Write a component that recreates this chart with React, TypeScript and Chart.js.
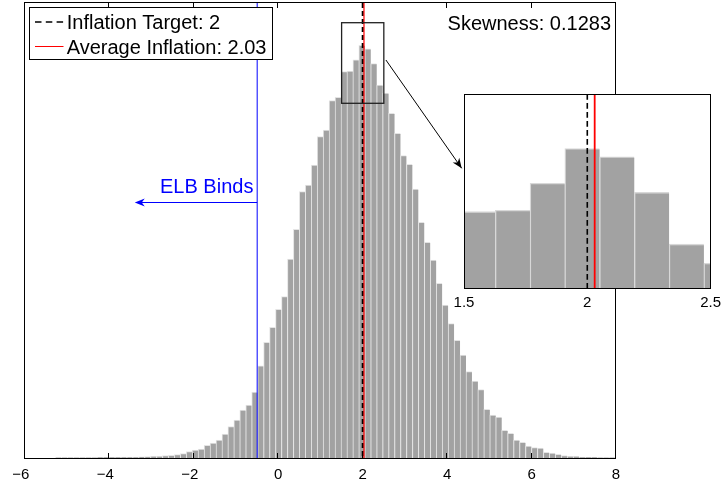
import React, { useEffect, useRef } from 'react';
import { Chart, registerables } from 'chart.js';

Chart.register(...registerables);

// ---- data ----
const binStart = -5.282; // left edge of first histogram bin
const binWidth = 0.141;
const counts = [
  0.3, 0.3, 0.3, 0.4, 0.4, 0.5, 0.5, 0.6, 0.6, 0.7,
  0.7, 0.8, 0.9, 1.0, 1.1, 1.3, 1.6, 2.0, 2.3, 2.7,
  3.3, 4.3, 6.3, 8.0, 9.0, 12.6, 15.0, 18.0, 24.0, 31.5,
  38.0, 48.0, 53.0, 65.8, 92.2, 115.7, 130.7, 148.7, 161.3, 199.0,
  228.7, 266.5, 273.0, 293.0, 321.3, 328.0, 357.3, 360.7, 386.4, 387.0,
  398.2, 412.6, 409.2, 394.4, 372.9, 365.0, 344.7, 324.7, 302.3, 293.7,
  269.0, 235.7, 215.7, 198.0, 174.7, 153.0, 134.3, 117.7, 103.0, 86.3,
  77.0, 68.3, 48.7, 43.0, 41.0, 27.7, 24.7, 18.0, 15.7, 12.0,
  10.3, 10.0, 5.7, 5.0, 3.7, 2.3, 1.7, 1.7, 1.0, 0.7,
  0.6, 0.5, 0.4, 0.4, 0.3,
];
const xTicks = [-6, -4, -2, 0, 2, 4, 6, 8];
const insetTicks = [1.5, 2, 2.5];
const inflationTarget = 2;
const averageInflation = 2.03;
const elbRate = -0.5;
const skewness = 0.1283;
const yMax = 455;
const zoomX = [1.5, 2.5];
const zoomY = [354.7, 435.3];
const elbArrow = { from: -0.5, to: -3.4, level: 255.3 };
const elbLabel = { x: -0.59, y: 265.5, text: 'ELB Binds' };
const zoomArrow = { x0: 2.55, y0: 398, x1: 4.345, y1: 289.7 };

const FONT = '"Liberation Sans", Arial, Helvetica, sans-serif';
const BAR_FILL = '#a2a2a2';
const BAR_EDGE = '#e4e4e4';

const histData = counts.map((c, i) => ({ x: binStart + binWidth * (i + 0.5), y: c }));

// negative labels: numeral centred on the tick, minus sign hanging left
const fmtTick = (v: number) => (v < 0 ? '\u2212' + Math.abs(v) + '\u2007' : String(v));

function arrowHead(ctx: CanvasRenderingContext2D, x0: number, y0: number, x1: number, y1: number, len: number, half: number) {
  const ang = Math.atan2(y1 - y0, x1 - x0);
  const c = Math.cos(ang), s = Math.sin(ang);
  const bx = x1 - len * c, by = y1 - len * s;
  const nx = x1 - len * 0.7 * c, ny = y1 - len * 0.7 * s;
  ctx.beginPath();
  ctx.moveTo(x1, y1);
  ctx.lineTo(bx - half * s, by + half * c);
  ctx.lineTo(nx, ny);
  ctx.lineTo(bx + half * s, by - half * c);
  ctx.closePath();
  ctx.fill();
}

const mainDecor = {
  id: 'mainDecor',
  afterDraw(chart: any) {
    const { ctx, chartArea: a, scales } = chart;
    const x = scales.x, y = scales.y;
    const px = (v: number) => x.getPixelForValue(v);
    const py = (v: number) => y.getPixelForValue(v);
    ctx.save();
    // blue ELB line
    ctx.strokeStyle = '#0000ff';
    ctx.lineWidth = 1;
    ctx.beginPath();
    ctx.moveTo(px(elbRate), a.top);
    ctx.lineTo(px(elbRate), a.bottom);
    ctx.stroke();
    // inflation target dashed
    ctx.strokeStyle = '#000';
    ctx.lineWidth = 2;
    ctx.setLineDash([5, 3]);
    ctx.beginPath();
    ctx.moveTo(px(inflationTarget), a.top);
    ctx.lineTo(px(inflationTarget), a.bottom);
    ctx.stroke();
    ctx.setLineDash([]);
    // average inflation red
    ctx.strokeStyle = '#ff0000';
    ctx.lineWidth = 1.2;
    ctx.beginPath();
    ctx.moveTo(px(averageInflation), a.top);
    ctx.lineTo(px(averageInflation), a.bottom);
    ctx.stroke();

    // axes box
    ctx.strokeStyle = '#000';
    ctx.lineWidth = 1;
    ctx.strokeRect(Math.round(a.left) - 0.5, Math.round(a.top) - 0.5, Math.round(a.right - a.left), Math.round(a.bottom - a.top) + 1);
    // inner tick marks
    ctx.beginPath();
    xTicks.forEach((t) => {
      const p = Math.round(px(t)) - 0.5;
      ctx.moveTo(p, a.bottom);
      ctx.lineTo(p, a.bottom - 5);
      ctx.moveTo(p, a.top);
      ctx.lineTo(p, a.top + 5);
    });
    ctx.stroke();

    // zoom rectangle
    ctx.strokeStyle = '#222';
    ctx.lineWidth = 1.3;
    const rx0 = px(zoomX[0]), rx1 = px(zoomX[1]);
    const ry0 = py(zoomY[1]), ry1 = py(zoomY[0]);
    ctx.strokeRect(rx0, ry0, rx1 - rx0, ry1 - ry0);

    // arrow to inset
    ctx.strokeStyle = '#000';
    ctx.fillStyle = '#000';
    ctx.lineWidth = 1;
    const ax0 = px(zoomArrow.x0), ay0 = py(zoomArrow.y0), ax1 = px(zoomArrow.x1), ay1 = py(zoomArrow.y1);
    ctx.beginPath();
    ctx.moveTo(ax0, ay0);
    ctx.lineTo(ax1, ay1);
    ctx.stroke();
    arrowHead(ctx, ax0, ay0, ax1, ay1, 10, 4);

    // ELB arrow + text
    ctx.strokeStyle = '#0000ff';
    ctx.fillStyle = '#0000ff';
    const ex0 = px(elbArrow.from), ex1 = px(elbArrow.to), ey = Math.floor(py(elbArrow.level)) + 0.5;
    ctx.beginPath();
    ctx.moveTo(ex0, ey);
    ctx.lineTo(ex1 + 3, ey);
    ctx.stroke();
    arrowHead(ctx, ex0, ey, ex1, ey, 10, 4);
    ctx.font = '20px ' + FONT;
    ctx.textAlign = 'right';
    ctx.textBaseline = 'alphabetic';
    ctx.fillText(elbLabel.text, px(elbLabel.x), py(elbLabel.y));

    // legend box
    const lx = a.left + 4, ly = a.top + 4;
    ctx.fillStyle = '#fff';
    ctx.fillRect(lx, ly, 243, 52);
    ctx.strokeStyle = '#000';
    ctx.lineWidth = 1;
    ctx.strokeRect(Math.round(lx) + 0.5, Math.round(ly) + 0.5, 243, 52);
    ctx.setLineDash([6.5, 4.3]);
    ctx.lineWidth = 1.3;
    ctx.beginPath();
    ctx.moveTo(lx + 6, ly + 15);
    ctx.lineTo(lx + 34.5, ly + 15);
    ctx.stroke();
    ctx.setLineDash([]);
    ctx.strokeStyle = '#ff0000';
    ctx.lineWidth = 1;
    ctx.beginPath();
    ctx.moveTo(lx + 6, ly + 39.5);
    ctx.lineTo(lx + 34.5, ly + 39.5);
    ctx.stroke();
    ctx.fillStyle = '#000';
    ctx.textAlign = 'left';
    ctx.fillText('Inflation Target: ' + inflationTarget, lx + 37.7, ly + 22.3);
    ctx.fillText('Average Inflation: ' + averageInflation.toFixed(2), lx + 37.7, ly + 47.3);

    // skewness
    ctx.textAlign = 'right';
    ctx.fillText('Skewness: ' + skewness.toFixed(4), a.right - 5, a.top + 27);
    ctx.restore();
  },
};

const insetDecor = {
  id: 'insetDecor',
  beforeDatasetsDraw(chart: any) {
    const { ctx, chartArea: a } = chart;
    ctx.save();
    ctx.fillStyle = '#fff';
    ctx.fillRect(a.left, a.top, a.right - a.left, a.bottom - a.top);
    ctx.restore();
  },
  afterDatasetsDraw(chart: any) {
    const { ctx, chartArea: a, scales } = chart;
    const px = (v: number) => scales.x.getPixelForValue(v);
    ctx.save();
    ctx.strokeStyle = '#000';
    ctx.lineWidth = 1.6;
    ctx.setLineDash([5.7, 3.3]);
    ctx.beginPath();
    ctx.moveTo(px(inflationTarget), a.top);
    ctx.lineTo(px(inflationTarget), a.bottom);
    ctx.stroke();
    ctx.setLineDash([]);
    ctx.strokeStyle = '#ff0000';
    ctx.lineWidth = 1.8;
    ctx.beginPath();
    ctx.moveTo(px(averageInflation), a.top);
    ctx.lineTo(px(averageInflation), a.bottom);
    ctx.stroke();
    ctx.strokeStyle = '#000';
    ctx.lineWidth = 1;
    ctx.strokeRect(Math.round(a.left) + 0.5, Math.round(a.top) + 0.5, Math.round(a.right - a.left) - 1, Math.round(a.bottom - a.top));
    ctx.restore();
  },
};

export default function App() {
  const mainRef = useRef<HTMLCanvasElement>(null);
  const insetRef = useRef<HTMLCanvasElement>(null);

  useEffect(() => {
    const barDataset = {
      data: histData,
      backgroundColor: BAR_FILL,
      borderColor: BAR_EDGE,
      borderWidth: { top: 1, left: 1, right: 0, bottom: 0 },
      borderSkipped: false,
      barPercentage: 1,
      categoryPercentage: 1,
    };
    const main = new Chart(mainRef.current!, {
      type: 'bar',
      data: { datasets: [barDataset as any] },
      options: {
        animation: false,
        responsive: false,
        devicePixelRatio: 1,
        events: [],
        layout: { padding: { left: 25, top: 3, right: 111, bottom: 0 } },
        plugins: { legend: { display: false }, tooltip: { enabled: false } },
        scales: {
          x: {
            type: 'linear',
            min: -6,
            max: 8,
            offset: false,
            grid: { display: false, drawTicks: false, offset: false },
            border: { display: false },
            afterBuildTicks: (s: any) => {
              s.ticks = xTicks.map((v) => ({ value: v }));
            },
            afterFit: (s: any) => {
              s.height = 29;
            },
            ticks: {
              padding: 8,
              color: '#000',
              maxRotation: 0,
              font: { family: FONT, size: 15 },
              callback: (v: any) => fmtTick(Number(v)),
            },
          },
          y: { display: false, min: 0, max: yMax },
        },
      },
      plugins: [mainDecor],
    });

    const inset = new Chart(insetRef.current!, {
      type: 'bar',
      data: { datasets: [{ ...barDataset, borderColor: '#d8d8d8', borderWidth: { top: 1.3, left: 1.3, right: 0, bottom: 0 } } as any] },
      options: {
        animation: false,
        responsive: false,
        devicePixelRatio: 1,
        events: [],
        layout: { padding: { left: 464, top: 94, right: 11, bottom: 0 } },
        plugins: { legend: { display: false }, tooltip: { enabled: false } },
        scales: {
          x: {
            type: 'linear',
            min: zoomX[0],
            max: zoomX[1],
            offset: false,
            grid: { display: false, drawTicks: false, offset: false },
            border: { display: false },
            afterBuildTicks: (s: any) => {
              s.ticks = insetTicks.map((v) => ({ value: v }));
            },
            afterFit: (s: any) => {
              s.height = 199;
            },
            ticks: {
              padding: 6,
              color: '#000',
              maxRotation: 0,
              font: { family: FONT, size: 15 },
              callback: (v: any) => String(v),
            },
          },
          y: { display: false, min: zoomY[0], max: zoomY[1] },
        },
      },
      plugins: [insetDecor],
    });

    return () => {
      main.destroy();
      inset.destroy();
    };
  }, []);

  return (
    <div style={{ position: 'fixed', left: 0, top: 0, width: 727, height: 487, background: '#fff' }}>
      <canvas ref={mainRef} width={727} height={487} style={{ position: 'absolute', left: 0, top: 0 }} />
      <canvas ref={insetRef} width={727} height={487} style={{ position: 'absolute', left: 0, top: 0 }} />
    </div>
  );
}
